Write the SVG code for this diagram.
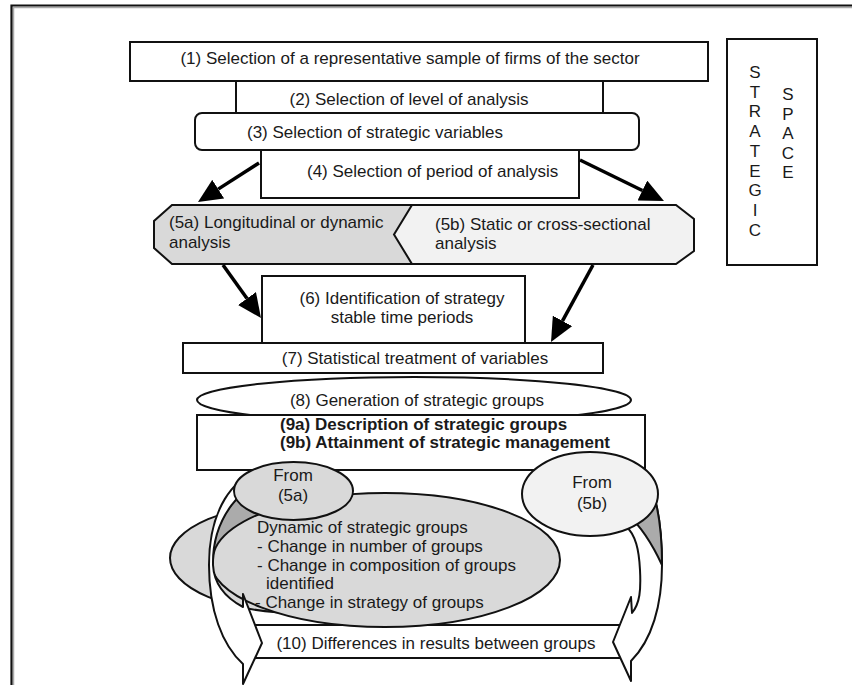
<svg xmlns="http://www.w3.org/2000/svg" width="852" height="685" viewBox="0 0 852 685">
<defs>
<style>
.bx{fill:#fff;stroke:#111;stroke-width:2}
.g1{fill:#d9d9d9;stroke:#111;stroke-width:2}
.g2{fill:#f2f2f2;stroke:#111;stroke-width:2}
.dk{fill:#ababab;stroke:#111;stroke-width:2;stroke-linejoin:round}
.wa{fill:#fff;stroke:#111;stroke-width:2;stroke-linejoin:round}
.ar{stroke:#000;stroke-width:3.5;fill:none;marker-end:url(#ah)}
text{font-family:"Liberation Sans",Arial,sans-serif;font-size:17px;fill:#1a1a1a}
.c{text-anchor:middle}
.b{font-weight:bold}
</style>
<marker id="ah" markerUnits="userSpaceOnUse" markerWidth="24" markerHeight="22" refX="0" refY="11" orient="auto"><path d="M0,0 L24,11 L0,22 Z" fill="#000"/></marker>
</defs>
<rect width="852" height="685" fill="#fff"/>
<path d="M13.5,685 V7.5 H852" fill="none" stroke="#aaa" stroke-width="1.5"/>
<path d="M11.5,685 V5.5 H852" fill="none" stroke="#111" stroke-width="2.2"/>

<g id="n1"><rect class="bx" x="130" y="42" width="578" height="39"/><text class="c" x="410" y="64">(1) Selection of a representative sample of firms of the sector</text></g>
<g id="n2"><rect class="bx" x="236" y="81" width="367" height="32"/><text class="c" x="409" y="105">(2) Selection of level of analysis</text></g>
<g id="n3"><rect class="bx" x="195" y="113" width="444" height="37" rx="7"/><text x="247" y="138">(3) Selection of strategic variables</text></g>
<g id="n4"><rect class="bx" x="261" y="150" width="318" height="48"/><text x="307" y="177">(4) Selection of period of analysis</text></g>
<g id="nS"><rect class="bx" x="727" y="39" width="90" height="226"/>
<text class="c" x="755" y="78">S</text><text class="c" x="755" y="97.7">T</text><text class="c" x="755" y="117.4">R</text><text class="c" x="755" y="137.1">A</text><text class="c" x="755" y="156.8">T</text><text class="c" x="755" y="176.5">E</text><text class="c" x="755" y="196.2">G</text><text class="c" x="755" y="215.9">I</text><text class="c" x="755" y="235.6">C</text>
<text class="c" x="788" y="100">S</text><text class="c" x="788" y="119.5">P</text><text class="c" x="788" y="139">A</text><text class="c" x="788" y="158.5">C</text><text class="c" x="788" y="178">E</text></g>
<g id="n5a"><polygon class="g1" points="172,205 420,205 420,264 172,264 154,248 154,221"/><text x="169" y="228">(5a) Longitudinal or dynamic</text><text x="169" y="248">analysis</text></g>
<g id="n5b"><polygon class="g2" points="412,205 676,205 694,219 694,251 676,264 412,264 394,234.5"/><text x="435" y="230">(5b) Static or cross-sectional</text><text x="435" y="249">analysis</text></g>
<g id="n6"><rect class="bx" x="262" y="276" width="263" height="67"/><text class="c" x="402" y="304">(6) Identification of strategy</text><text class="c" x="402" y="323">stable time periods</text></g>
<g id="n7"><rect class="bx" x="183" y="343" width="420" height="30"/><text class="c" x="415" y="364">(7) Statistical treatment of variables</text></g>
<g id="n8"><ellipse class="bx" cx="414" cy="400" rx="217" ry="23"/><text class="c" x="417" y="406">(8) Generation of strategic groups</text></g>
<g id="n9"><rect class="bx" x="197" y="415" width="448" height="55"/><text class="b" x="280" y="430">(9a) Description of strategic groups</text><text class="b" x="280" y="448">(9b) Attainment of strategic management</text></g>
<g id="n10"><rect class="bx" x="246" y="625" width="382" height="33"/><text class="c" x="436" y="649">(10) Differences in results between groups</text></g>
<g id="nDyn"><ellipse class="g1" cx="300" cy="558" rx="130" ry="55"/><ellipse class="g1" cx="385" cy="560" rx="175" ry="67"/>
<text x="257" y="533">Dynamic of strategic groups</text><text x="257" y="552">- Change in number of groups</text><text x="257" y="571">- Change in composition of groups</text><text x="266" y="589">identified</text><text x="255" y="608">- Change in strategy of groups</text></g>

<g id="edges">
<line class="ar" x1="259" y1="163" x2="218.2" y2="189.1"/>
<line class="ar" x1="580" y1="160" x2="642.4" y2="190.5"/>
<line class="ar" x1="223" y1="265" x2="247" y2="298.5"/>
<line class="ar" x1="593" y1="265" x2="562.5" y2="320.9"/>
<path class="dk" d="M282,472 C240,482 212,520 213,560 A175,67 0 0 1 290,504 L290,480 Z"/>
<path class="wa" d="M266,470 C232,474 209,512 209,565 C209,610 222,645 243,664 L243,684 L262,643 L243,594 L243,607 C226,598 214,585 213,565 C212,520 240,482 282,472 Z"/>
<path class="wa" d="M636,466 C655,480 662,520 662,565 C662,605 652,640 631,661 L631,681 L613,642 L631,597 L632,613 C640,603 641,590 640,570 C639,550 636,535 625,525 Z"/>
<path class="dk" d="M636,466 C655,480 662,520 662,565 C655,550 645,530 628,515 Z"/>
</g>

<g id="nF5a"><ellipse class="g1" cx="293.5" cy="491" rx="59.5" ry="29"/><text class="c" x="293" y="481">From</text><text class="c" x="293" y="501">(5a)</text></g>
<g id="nF5b"><ellipse class="g2" cx="590" cy="494" rx="68" ry="42"/><text class="c" x="592" y="488">From</text><text class="c" x="592" y="509">(5b)</text></g>
</svg>
